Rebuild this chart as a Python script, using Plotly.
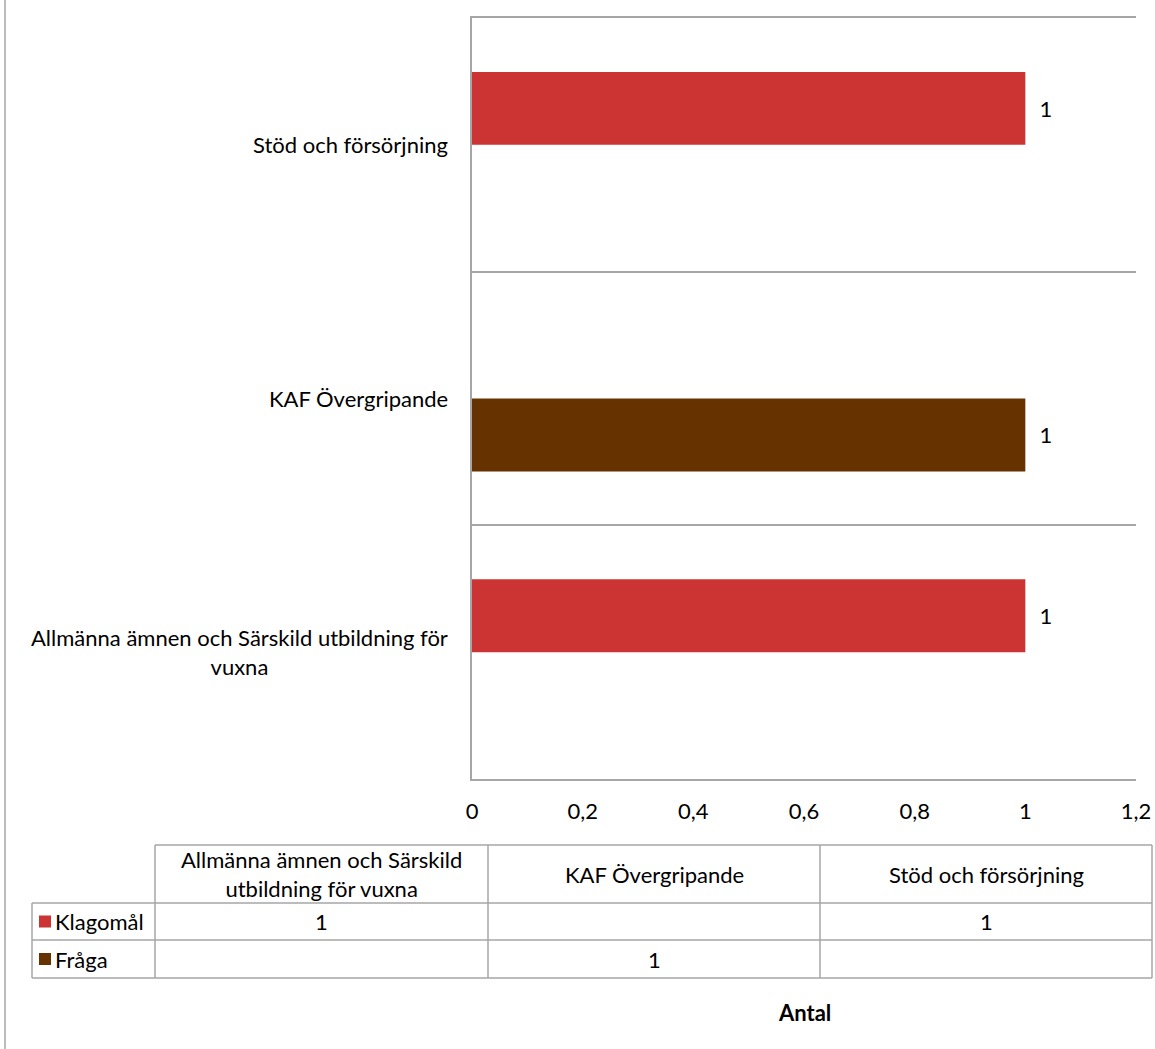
import plotly.graph_objects as go

categories = ["Allmänna ämnen och Särskild utbildning för vuxna", "KAF Övergripande", "Stöd och försörjning"]
axis_labels = ["Allmänna ämnen och Särskild utbildning för<br>vuxna", "KAF Övergripande", "Stöd och försörjning"]
table_headers = ["Allmänna ämnen och Särskild<br>utbildning för vuxna", "KAF Övergripande", "Stöd och försörjning"]
series_names = ["Klagomål", "Fråga"]
klagomal = [1, None, 1]
fraga = [None, 1, None]
series_colors = {"Klagomål": "#CC3333", "Fråga": "#663300"}

W, H = 1155, 1049
L, R, T, B = 472, 1136, 18, 779
FONT = "Lato, 'Open Sans', sans-serif"
FS = 22
GRID = "#A6A6A6"


def px(x):
    return (x - L) / (R - L)


def py(y):
    return (B - y) / (B - T)


def labels(vals):
    return ["  " + str(v) if v is not None else "" for v in vals]


fig = go.Figure()
# Fråga first so that Klagomål sits in the upper half of each group
for name, vals in [("Fråga", fraga), ("Klagomål", klagomal)]:
    fig.add_trace(go.Bar(
        y=categories, x=vals, name=name, orientation="h",
        marker=dict(color=series_colors[name], line=dict(width=0)),
        text=labels(vals), textposition="outside", cliponaxis=False,
        textfont=dict(family=FONT, size=FS, color="#000000"),
        showlegend=False, hoverinfo="x+y",
    ))

fig.update_layout(
    width=W, height=H,
    margin=dict(l=L, r=W - R, t=T, b=H - B, autoexpand=False),
    paper_bgcolor="white", plot_bgcolor="white",
    barmode="group", bargap=0.425, bargroupgap=0,
    separators=", ",
    font=dict(family=FONT, size=FS, color="#000000"),
    showlegend=False,
)
fig.update_xaxes(
    range=[0, 1.2], dtick=0.2, tick0=0, showgrid=False, zeroline=False,
    showline=True, mirror=True, linecolor=GRID, linewidth=1.5, ticks="",
    tickfont=dict(family=FONT, size=FS, color="#000000"),
    ticklabelstandoff=12, automargin=False,
)
fig.update_yaxes(
    categoryorder="array", categoryarray=categories, range=[-0.5, 2.5],
    showticklabels=False, showgrid=True, gridcolor=GRID, gridwidth=1.5,
    tickson="boundaries", ticks="", zeroline=False,
    showline=True, linecolor=GRID, linewidth=1.5, automargin=False,
)

shapes = []
annotations = []

# category labels (centered multi-line, right-anchored)
for cat, lab in zip(categories, axis_labels):
    annotations.append(dict(
        x=px(450), xref="paper", y=cat, yref="y", text=lab, showarrow=False,
        xanchor="right", yanchor="middle", align="center",
        font=dict(family=FONT, size=FS, color="#000000"),
    ))

# left border of chart area
shapes.append(dict(type="line", xref="paper", yref="paper",
                   x0=px(5), x1=px(5), y0=py(0), y1=py(H), line=dict(color=GRID, width=1.5)))

# data table
col_x = [32, 155, 488, 820, 1152]
row_y = [845, 903, 940, 978]
line = dict(color=GRID, width=1.5)
shapes.append(dict(type="line", xref="paper", yref="paper", x0=px(col_x[1]), x1=px(col_x[-1]),
                   y0=py(row_y[0]), y1=py(row_y[0]), line=line))
for yy in row_y[1:]:
    shapes.append(dict(type="line", xref="paper", yref="paper", x0=px(col_x[0]), x1=px(col_x[-1]),
                       y0=py(yy), y1=py(yy), line=line))
shapes.append(dict(type="line", xref="paper", yref="paper", x0=px(col_x[0]), x1=px(col_x[0]),
                   y0=py(row_y[1]), y1=py(row_y[-1]), line=line))
for xx in col_x[1:]:
    shapes.append(dict(type="line", xref="paper", yref="paper", x0=px(xx), x1=px(xx),
                       y0=py(row_y[0]), y1=py(row_y[-1]), line=line))

for i, hdr in enumerate(table_headers):
    cx = (col_x[i + 1] + col_x[i + 2]) / 2
    annotations.append(dict(
        x=px(cx), y=py((row_y[0] + row_y[1]) / 2), xref="paper", yref="paper",
        text=hdr, showarrow=False, xanchor="center", yanchor="middle", align="center",
        font=dict(family=FONT, size=FS, color="#000000"),
    ))

for r, (name, vals) in enumerate([("Klagomål", klagomal), ("Fråga", fraga)]):
    cy = (row_y[r + 1] + row_y[r + 2]) / 2
    shapes.append(dict(type="rect", xref="paper", yref="paper",
                       x0=px(39), x1=px(51), y0=py(cy - 6), y1=py(cy + 6),
                       fillcolor=series_colors[name], line=dict(width=0)))
    annotations.append(dict(
        x=px(53), y=py(cy), xref="paper", yref="paper", text=name, showarrow=False,
        xanchor="left", yanchor="middle", font=dict(family=FONT, size=FS, color="#000000"),
    ))
    for i, v in enumerate(vals):
        if v is None:
            continue
        cx = (col_x[i + 1] + col_x[i + 2]) / 2
        annotations.append(dict(
            x=px(cx), y=py(cy), xref="paper", yref="paper", text=str(v), showarrow=False,
            xanchor="center", yanchor="middle", font=dict(family=FONT, size=FS, color="#000000"),
        ))

# axis title
annotations.append(dict(
    x=0.5, y=py(1012), xref="paper", yref="paper", text="<b>Antal</b>", showarrow=False,
    xanchor="center", yanchor="middle", font=dict(family=FONT, size=FS, color="#000000"),
))

fig.update_layout(shapes=shapes, annotations=annotations)
fig.write_html("out.html", config={"displayModeBar": False},
               post_script="document.body.style.margin='0';")
